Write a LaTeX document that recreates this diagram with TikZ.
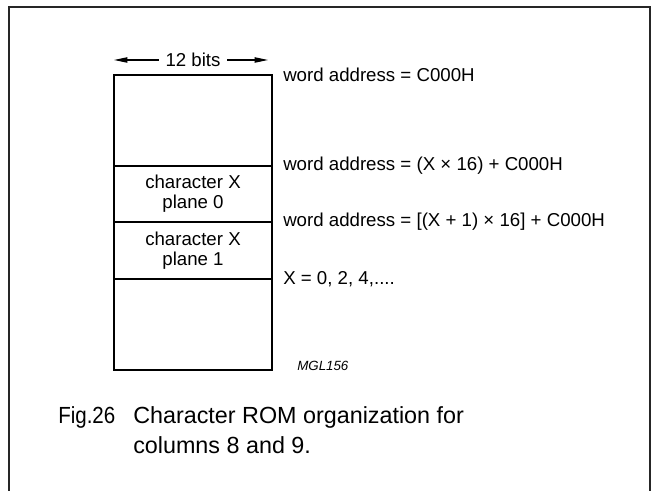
\documentclass[tikz,border=0pt]{standalone}
\usepackage{fontspec}
\setmainfont{Liberation Sans}
\usetikzlibrary{arrows.meta, positioning}

\begin{document}
\begin{tikzpicture}[x=0.75pt, y=-0.75pt,
    cell/.style={rectangle, draw, line width=2pt, align=center, minimum width=118.5pt,
        inner sep=0pt, outer sep=0pt, font=\fontsize{14}{15}\selectfont},
    addr/.style={align=left, inner sep=0pt, font=\fontsize{14}{15}\selectfont},
    caption/.style={align=left, inner sep=0pt, font=\fontsize{17.5}{22.5}\selectfont},
    line/.style={draw, line width=0.8pt, -{Triangle[length=10pt, width=4pt]}}
  ]
  \useasboundingbox (0,0) rectangle (656,491);
  % open frame round the figure
  \draw [line width=1pt, black!85] (9,491) -- (9,7) -- (650,7) -- (650,491);

  \node [cell, minimum height=68.25pt, anchor=north west] (rom0) at (114,75) {};
  \node [cell, below=0pt of rom0, minimum height=42pt] (plane0) {character X\\ plane 0};
  \node [cell, below=0pt of plane0, minimum height=42.75pt] (plane1) {character X\\ plane 1};
  \node [cell, below=0pt of plane1, minimum height=68.25pt] (rom1) {};

  \node [addr, right=8.25pt of rom0.north east] (addr0) {word address = C000H};
  \node [addr, right=8.25pt of plane0.north east] (addr1) {word address = (X × 16) + C000H};
  \node [addr, right=8.25pt of plane1.north east] (addr2) {word address = [(X + 1) × 16] + C000H};
  \node [addr, right=8.25pt of rom1.north east] (xrange) {X = 0, 2, 4,....};

  \node [addr, inner sep=5pt, at={(rom0.north)}, yshift=11.25pt] (bits) {12 bits};
  \coordinate (bitsl) at (rom0.north west |- bits);
  \coordinate (bitsr) at ([xshift=-3pt]rom0.north east |- bits);
  \path [line] (bits.west) -- (bitsl);
  \path [line] (bits.east) -- (bitsr);

  \node [font=\fontsize{10}{12}\selectfont\itshape, anchor=west, inner sep=0pt] (mgl) at (297,366) {MGL156};

  \node [caption, anchor=base west] (fig) at (58,423) {\scalebox{0.88}[1]{Fig.26}};
  \coordinate (capx) at (133,0);
  \node [caption, anchor=north west] (title) at (fig.north -| capx) {Character ROM organization for\\ columns 8 and 9.};
\end{tikzpicture}
\end{document}
